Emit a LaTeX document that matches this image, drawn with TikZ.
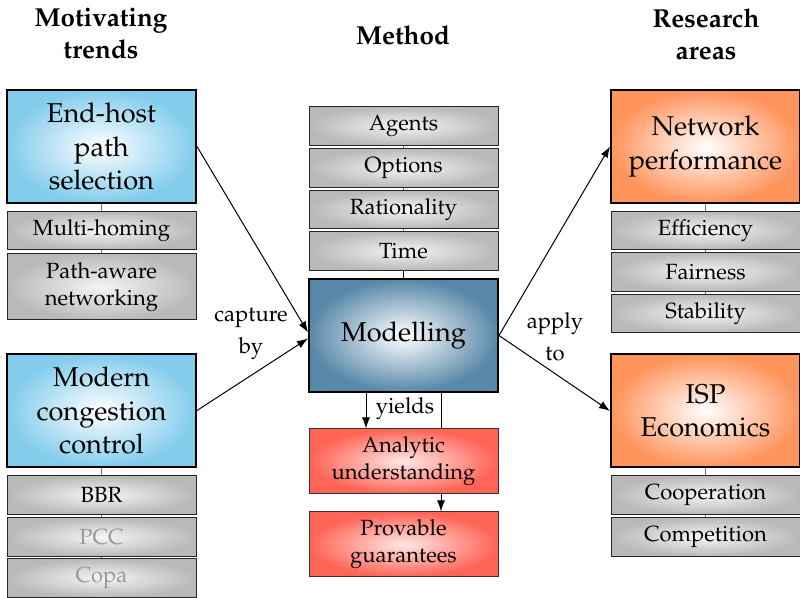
\documentclass[tikz,border=0pt]{standalone}
\usepackage[T1]{fontenc}
\usepackage{mathpazo}
\usetikzlibrary{arrows.meta}
\definecolor{skyb}{RGB}{130,204,236}
\definecolor{steel}{RGB}{88,136,168}
\definecolor{salmon}{RGB}{255,100,85}
\definecolor{orng}{RGB}{255,148,92}
\tikzset{
  bigbox/.style={draw=black, line width=1pt, minimum width=94.5pt, minimum height=56.5pt,
    inner sep=0pt, align=center, font=\fontsize{13.6}{16.75}\selectfont},
  smallbox/.style={draw=black!85, line width=0.5pt, minimum width=94.5pt, minimum height=19.25pt,
    inner sep=0pt, align=center, font=\fontsize{11}{13.5}\selectfont,
    inner color=gray!8, outer color=gray!55},
  redbox/.style={draw=black!80, line width=0.5pt, minimum width=94.5pt, minimum height=32.5pt,
    inner sep=0pt, align=center, font=\fontsize{11}{13.5}\selectfont,
    inner color=white!85!salmon, outer color=salmon},
  bluebox/.style={bigbox, inner color=white, outer color=skyb},
  steelbox/.style={bigbox, inner color=white, outer color=steel},
  orangebox/.style={bigbox, inner color=white, outer color=orng},
  title/.style={align=center, font=\fontsize{13}{16}\selectfont\bfseries},
  lbl/.style={align=center, font=\fontsize{11}{16}\selectfont},
  link/.style={draw=black!55, line width=0.5pt},
  arr/.style={draw=black, line width=0.5pt, -{Latex[length=5.5pt,width=4pt]}},
}
\begin{document}
\begin{tikzpicture}[x=0.5pt,y=-0.5pt]
\useasboundingbox (0,0) rectangle (800,598);
% titles
\node[title] (t1) at (101,34) {Motivating\\trends};
\node[title] (t2) at (403,35) {Method};
\node[title] (t3) at (706,34) {Research\\areas};
% left column
\node[bluebox] (endhost) at (101.5,146.5) {End-host\\path\\selection};
\node[smallbox] (multi) at (101.5,230.5) {Multi-homing};
\node[smallbox, minimum height=33pt] (pathaware) at (101.5,287) {Path-aware\\networking};
\node[bluebox] (modern) at (101.5,410.5) {Modern\\congestion\\control};
\node[smallbox] (bbr) at (101.5,495) {BBR};
\node[smallbox, text=black!40] (pcc) at (101.5,537) {PCC};
\node[smallbox, text=black!40] (copa) at (101.5,578) {Copa};
% middle column
\node[smallbox] (agents) at (403.5,126) {Agents};
\node[smallbox] (options) at (403.5,168) {Options};
\node[smallbox] (ration) at (403.5,209.5) {Rationality};
\node[smallbox] (time) at (403.5,251) {Time};
\node[steelbox] (model) at (403.5,335.5) {Modelling};
\node[redbox] (analytic) at (403.5,461.5) {Analytic\\understanding};
\node[redbox] (provable) at (403.5,544.5) {Provable\\guarantees};
% right column
\node[orangebox] (netperf) at (705.5,146.5) {Network\\performance};
\node[smallbox] (eff) at (705.5,230.5) {Efficiency};
\node[smallbox] (fair) at (705.5,272) {Fairness};
\node[smallbox] (stab) at (705.5,313.5) {Stability};
\node[orangebox] (isp) at (705.5,411) {ISP\\Economics};
\node[smallbox] (coop) at (705.5,495) {Cooperation};
\node[smallbox] (comp) at (705.5,537) {Competition};
% vertical links
\draw[link] (endhost.south) -- (multi.north);
\draw[link] (multi.south) -- (pathaware.north);
\draw[link] (modern.south) -- (bbr.north);
\draw[link] (bbr.south) -- (pcc.north);
\draw[link] (pcc.south) -- (copa.north);
\draw[link] (agents.south) -- (options.north);
\draw[link] (options.south) -- (ration.north);
\draw[link] (ration.south) -- (time.north);
\draw[link, draw=black] (time.south) -- (model.north);
\draw[link] (netperf.south) -- (eff.north);
\draw[link] (eff.south) -- (fair.north);
\draw[link] (fair.south) -- (stab.north);
\draw[link] (isp.south) -- (coop.north);
\draw[link] (coop.south) -- (comp.north);
% arrows
\draw[arr] (endhost.east) -- ([yshift=1.5pt]model.west);
\draw[arr] (modern.east) -- ([yshift=-1.5pt]model.west);
\draw[arr] (model.east) -- (netperf.west);
\draw[arr] (model.east) -- (isp.west);
\draw[arr] ([xshift=-18.75pt]model.south) -- ([xshift=-18.75pt]analytic.north);
\draw[line width=0.5pt] ([xshift=18.75pt]model.south) -- ([xshift=18.75pt]analytic.north);
\draw[arr] ([xshift=18.75pt]analytic.south) -- ([xshift=18.75pt]provable.north);
% labels
\node[lbl] (capture) at (251,334) {capture\\by};
\node[lbl] (apply) at (555,337) {apply\\to};
\node[lbl] (yields) at (405,409) {yields};
\end{tikzpicture}
\end{document}
